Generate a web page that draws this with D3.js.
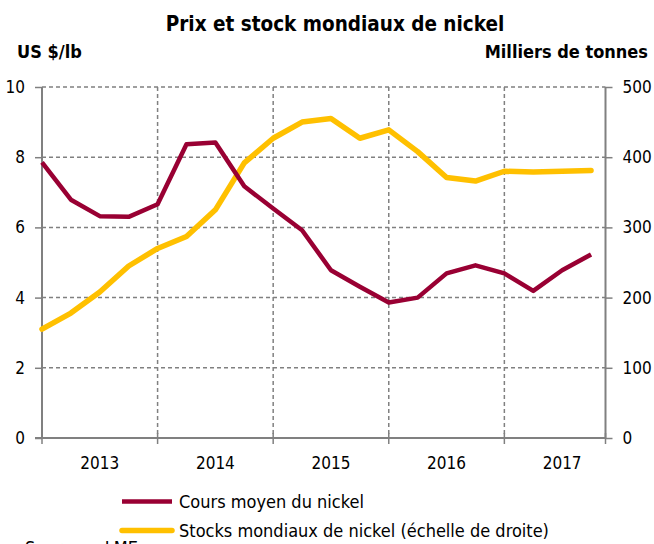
<!DOCTYPE html>
<html>
<head>
<meta charset="utf-8">
<script src="https://cdn.jsdelivr.net/npm/d3@7/dist/d3.min.js"></script>
<style>
  html, body { margin: 0; padding: 0; background: #fff; }
  svg { display: block; }
  text { font-family: Tahoma, "DejaVu Sans Condensed", "DejaVu Sans", sans-serif; fill: #000; }
</style>
</head>
<body>
<script>
// ---- data ----
const quarters = ["T1 2013","T2 2013","T3 2013","T4 2013",
                  "T1 2014","T2 2014","T3 2014","T4 2014",
                  "T1 2015","T2 2015","T3 2015","T4 2015",
                  "T1 2016","T2 2016","T3 2016","T4 2016",
                  "T1 2017","T2 2017","T3 2017","T4 2017"];
const years = ["2013","2014","2015","2016","2017"];
const price = [7.85,6.79,6.32,6.30,6.66,8.37,8.42,7.17,6.54,5.92,
               4.78,4.31,3.86,4.00,4.69,4.92,4.69,4.19,4.78,5.23];
const stocks = [155,178,208,245,270,287,325,392,427,450,
                455,427,439,408,371,366,380,379,380,381];
const leftTicks = [0,2,4,6,8,10];
const rightTicks = [0,100,200,300,400,500];
const title = "Prix et stock mondiaux de nickel";
const leftUnit = "US $/lb";
const rightUnit = "Milliers de tonnes";
const seriesNames = ["Cours moyen du nickel", "Stocks mondiaux de nickel (échelle de droite)"];
const sourceText = "Sources : LME";

(function () {
// ---- layout ----
const W = 654, H = 544;
const pL = 42, pR = 605.5, pT = 87, pB = 438;
const red = "#990033", yellow = "#FFC000", grid = "#808080";

const svg = d3.select("body").append("svg").attr("width", W).attr("height", H);

const x = d3.scalePoint().domain(quarters).range([pL, pL + 19 * (pR - pL) / 19.5]);
const yL = d3.scaleLinear().domain([0, 10]).range([pB, pT]);
const yR = d3.scaleLinear().domain([0, 500]).range([pB, pT]);

// horizontal gridlines
svg.append("g").selectAll("line").data(leftTicks.filter(d => d > 0)).join("line")
  .attr("x1", pL).attr("x2", pR)
  .attr("y1", d => yL(d)).attr("y2", d => yL(d))
  .attr("stroke", grid).attr("stroke-width", 1.5).attr("stroke-dasharray", "4,3");

// vertical gridlines at year boundaries
const boundaries = years.slice(1).map((y, i) => quarters[(i + 1) * 4]);
svg.append("g").selectAll("line").data(boundaries).join("line")
  .attr("x1", d => x(d)).attr("x2", d => x(d))
  .attr("y1", pT).attr("y2", pB)
  .attr("stroke", grid).attr("stroke-width", 1.5).attr("stroke-dasharray", "4,3");

// left axis
const gL = svg.append("g").attr("transform", `translate(${pL},0)`)
  .call(d3.axisLeft(yL).tickValues(leftTicks).tickSize(7).tickPadding(10).tickFormat(d3.format("d")));
// right axis
const gR = svg.append("g").attr("transform", `translate(${pR},0)`)
  .call(d3.axisRight(yR).tickValues(rightTicks).tickSize(7).tickPadding(10).tickFormat(d3.format("d")));
[gL, gR].forEach(g => {
  g.select(".domain").attr("stroke", grid).attr("stroke-width", 2)
    .attr("d", `M0,${pT}V${pB}`);
  g.selectAll(".tick line").attr("stroke", grid).attr("stroke-width", 1.5);
  g.selectAll(".tick text").style("font-size", "17px").attr("fill", "#000");
});

// x axis baseline
svg.append("line").attr("x1", pL - 7).attr("x2", pR)
  .attr("y1", pB).attr("y2", pB)
  .attr("stroke", grid).attr("stroke-width", 2);
// x ticks at year boundaries (and ends)
const xTickPos = [x(quarters[0])].concat(boundaries.map(d => x(d))).concat([pR]);
svg.append("g").selectAll("line").data(xTickPos).join("line")
  .attr("x1", d => d).attr("x2", d => d)
  .attr("y1", pB - 5).attr("y2", pB + 6)
  .attr("stroke", grid).attr("stroke-width", 1.5);

// year labels
svg.append("g").selectAll("text").data(years).join("text")
  .attr("x", (d, i) => (x(quarters[i * 4]) + x(quarters[i * 4 + 3])) / 2 + x.step() / 2)
  .attr("y", 463.5).attr("dy", "0.35em")
  .attr("text-anchor", "middle").style("font-size", "17px").text(d => d);

// lines
const linePrice = d3.line().x((d, i) => x(quarters[i])).y(d => yL(d));
const lineStock = d3.line().x((d, i) => x(quarters[i])).y(d => yR(d));
svg.append("path").datum(stocks).attr("d", lineStock)
  .attr("fill", "none").attr("stroke", yellow).attr("stroke-width", 5.5)
  .attr("stroke-linejoin", "round").attr("stroke-linecap", "round");
svg.append("path").datum(price).attr("d", linePrice)
  .attr("fill", "none").attr("stroke", red).attr("stroke-width", 4.5)
  .attr("stroke-linejoin", "round").attr("stroke-linecap", "butt");

// titles
svg.append("text").attr("x", 335).attr("y", 31).attr("text-anchor", "middle")
  .style("font-size", "20.5px").style("font-weight", "bold").text(title);
svg.append("text").attr("x", 17).attr("y", 58)
  .style("font-size", "18px").style("font-weight", "bold").text(leftUnit);
svg.append("text").attr("x", 648).attr("y", 58).attr("text-anchor", "end")
  .style("font-size", "18px").style("font-weight", "bold").text(rightUnit);

// legend
const leg = [
  { name: seriesNames[0], color: red, w: 4.5, cap: "butt", y: 501.5 },
  { name: seriesNames[1], color: yellow, w: 5.5, cap: "round", y: 530.5 }
];
const lg = svg.append("g").selectAll("g").data(leg).join("g");
lg.append("line").attr("x1", 122).attr("x2", 172)
  .attr("y1", d => d.y).attr("y2", d => d.y)
  .attr("stroke", d => d.color).attr("stroke-width", d => d.w).attr("stroke-linecap", d => d.cap);
lg.append("text").attr("x", 179).attr("y", d => d.y).attr("dy", "0.35em")
  .style("font-size", "18px").text(d => d.name);

// source (partially visible at bottom, as in the reference)
svg.append("text").attr("x", 25).attr("y", 554).style("font-size", "18px").text(sourceText);
})();
</script>
</body>
</html>
